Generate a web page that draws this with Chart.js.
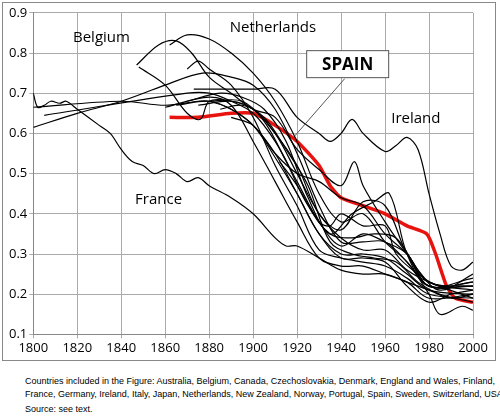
<!DOCTYPE html>
<html><head><meta charset="utf-8">
<script src="https://cdn.jsdelivr.net/npm/chart.js@4"></script>
<style>
body{margin:0;background:#fff;font-family:"Liberation Sans",Arial,sans-serif;}
#frame{position:absolute;left:2px;top:2px;width:494px;height:359px;border:1px solid #888;box-sizing:border-box;}
#c{display:block;}
#cap{position:absolute;left:25px;top:375px;font-size:9px;line-height:12.5px;color:#000;white-space:nowrap;}
</style></head><body>
<div id="frame"><canvas id="c" width="492" height="357"></canvas></div>
<div id="cap">Countries included in the Figure: Australia, Belgium, Canada, Czechoslovakia, Denmark, England and Wales, Finland,<br>France, Germany, Ireland, Italy, Japan, Netherlands, New Zealand, Norway, Portugal, Spain, Sweden, Switzerland, USA.<div style="margin-top:3px">Source: see text.</div></div>
<script>
const xTicks=[1800,1820,1840,1860,1880,1900,1920,1940,1960,1980,2000];
const yTicks=[0.1,0.2,0.3,0.4,0.5,0.6,0.7,0.8,0.9];
const spainYears=[1862,1875,1890,1900,1910,1920,1930,1935,1940,1950,1960,1970,1979,1983,1988,1992,2000];
const spainVals=[.64,.64,.65,.65,.62,.58,.52,.47,.44,.42,.40,.37,.35,.30,.22,.19,.18];
const franceYears=[1800,1802,1805,1808,1812,1815,1820,1830,1835,1840,1845,1850,1855,1860,1865,1870,1875,1880,1890,1900,1910,1915,1920,1930,1940,1950,1960,1970,1980,1990,2000];
const franceVals=[.70,.665,.67,.68,.675,.68,.66,.62,.60,.56,.53,.52,.50,.51,.50,.48,.49,.47,.44,.40,.34,.32,.32,.29,.26,.25,.25,.23,.21,.19,.20];
const belgiumYears=[1800,1840,1860,1875,1880,1890,1900,1910,1920,1930,1940,1950,1960,1970,1980,2000];
const belgiumVals=[.665,.68,.67,.68,.68,.66,.62,.55,.45,.35,.30,.30,.29,.25,.21,.20];
const netherlandsYears=[1847,1857,1865,1872,1880,1890,1900,1910,1920,1930,1940,1946,1950,1960,1970,1980,2000];
const netherlandsVals=[.77,.82,.83,.80,.74,.70,.66,.64,.56,.51,.47,.53,.47,.38,.30,.22,.23];
const irelandYears=[1873,1900,1910,1920,1930,1935,1940,1945,1950,1960,1965,1970,1975,1980,1985,1990,1995,2000];
const irelandVals=[.71,.71,.71,.64,.60,.58,.60,.635,.60,.555,.57,.59,.56,.45,.35,.27,.26,.28];
const swedenYears=[1800,1820,1840,1860,1877,1890,1900,1910,1920,1930,1940,1950,1960,1970,1980,2000];
const swedenVals=[.615,.65,.68,.72,.75,.74,.72,.66,.55,.42,.33,.33,.33,.28,.22,.22];
const denmarkYears=[1805,1870,1880,1890,1900,1910,1920,1930,1940,1950,1960,1970,1980,2000];
const denmarkVals=[.645,.70,.70,.68,.65,.58,.48,.38,.32,.35,.33,.30,.22,.23];
const peakYears=[1862,1870,1880,1890,1900,1910,1920,1930,1940,1950,1960,1970,1980,1985,1995,2000];
const peakVals=[.82,.845,.835,.80,.75,.68,.58,.45,.38,.40,.33,.28,.20,.15,.17,.16];
const finlandYears=[1848,1860,1870,1876,1880,1890,1900,1910,1920,1930,1940,1950,1960,1970,1980,2000];
const finlandVals=[.765,.72,.65,.635,.68,.68,.66,.60,.52,.40,.36,.43,.42,.30,.23,.22];
const norwayYears=[1870,1875,1880,1890,1900,1910,1920,1930,1940,1950,1960,1970,1980,2000];
const norwayVals=[.76,.78,.76,.72,.64,.52,.42,.31,.29,.28,.27,.24,.20,.19];
const aYears=[1860,1880,1890,1900,1910,1920,1930,1940,1950,1960,1970,1980,2000];
const aVals=[.665,.69,.67,.58,.48,.38,.29,.27,.27,.25,.23,.19,.20];
const bYears=[1865,1880,1890,1900,1910,1920,1930,1940,1950,1960,1970,1980,1990,2000];
const bVals=[.67,.68,.66,.62,.54,.45,.35,.29,.29,.28,.22,.18,.20,.21];
const cYears=[1870,1885,1895,1905,1915,1925,1935,1945,1955,1962,1970,1980,2000];
const cVals=[.68,.70,.69,.66,.58,.44,.35,.40,.43,.45,.30,.22,.24];
const dYears=[1880,1895,1905,1915,1925,1935,1945,1955,1965,1975,1985,2000];
const dVals=[.68,.68,.63,.53,.42,.35,.34,.35,.34,.26,.21,.25];
const eYears=[1890,1900,1910,1920,1930,1940,1950,1960,1970,1980,2000];
const eVals=[.64,.62,.55,.50,.48,.44,.42,.35,.30,.23,.21];
const fYears=[1912,1920,1930,1935,1940,1950,1960,1965,1975,1985,2000];
const fVals=[.53,.47,.38,.37,.40,.37,.37,.30,.25,.22,.22];
const gYears=[1875,1890,1900,1910,1920,1930,1940,1950,1960,1970,1980,2000];
const gVals=[.67,.68,.66,.60,.50,.40,.34,.31,.31,.26,.23,.19];
const hYears=[1885,1895,1905,1915,1925,1935,1945,1955,1965,1975,1985,2000];
const hVals=[.66,.67,.64,.56,.47,.33,.30,.29,.28,.23,.20,.18];

const pts=(xs,ys)=>xs.map((x,i)=>({x:x,y:ys[i]}));
const blackSets=[[franceYears,franceVals],[belgiumYears,belgiumVals],[netherlandsYears,netherlandsVals],[irelandYears,irelandVals],[swedenYears,swedenVals],[denmarkYears,denmarkVals],[peakYears,peakVals],[finlandYears,finlandVals],[norwayYears,norwayVals],[aYears,aVals],[bYears,bVals],[cYears,cVals],[dYears,dVals],[eYears,eVals],[fYears,fVals],[gYears,gVals],[hYears,hVals]];
const datasets=blackSets.map(s=>({data:pts(s[0],s[1]),borderColor:'#000',borderWidth:1.2,pointRadius:0,tension:0.35,fill:false}));
datasets.push({data:pts(spainYears,spainVals),borderColor:'#e8130f',borderWidth:3.5,pointRadius:0,tension:0.2,fill:false});

const labels=[{t:'Belgium',x:1831,y:.838},{t:'Netherlands',x:1909,y:.862},{t:'Ireland',x:1974,y:.636},{t:'France',x:1857,y:.435}];
const annot={id:'annot',afterDatasetsDraw(ch){
 const c=ch.ctx,xs=ch.scales.x,ys=ch.scales.y;
 c.save();c.fillStyle='#000';c.textAlign='center';c.textBaseline='middle';
 c.font='15px "Open Sans",sans-serif';
 labels.forEach(l=>c.fillText(l.t,xs.getPixelForValue(l.x),ys.getPixelForValue(l.y)));
 const bx=xs.getPixelForValue(1943),by=ys.getPixelForValue(.771);
 c.strokeStyle='#555';c.lineWidth=1;
 c.beginPath();c.moveTo(bx-3,by+14);c.lineTo(xs.getPixelForValue(1919),ys.getPixelForValue(.594));c.stroke();
 c.fillStyle='#fff';c.fillRect(bx-41,by-14,82,27);c.strokeRect(bx-41,by-14,82,27);
 c.fillStyle='#000';c.font='bold 17px "Open Sans",sans-serif';c.fillText('SPAIN',bx,by);
 c.restore();}};

new Chart(document.getElementById('c'),{type:'line',data:{datasets},
options:{responsive:false,animation:false,
 layout:{padding:{left:4,right:22,top:6,bottom:2}},
 plugins:{legend:{display:false},tooltip:{enabled:false}},
 scales:{
  x:{type:'linear',min:1800,max:2000,afterBuildTicks:a=>{a.ticks=xTicks.map(v=>({value:v}));},
   grid:{color:'#aaa',borderDash:[3,3],drawTicks:true,tickLength:4},border:{color:'#888'},
   ticks:{color:'#000',font:{size:13,family:'"Open Sans",sans-serif'},maxRotation:0,padding:2,callback:v=>v}},
  y:{min:0.1,max:0.9,afterBuildTicks:a=>{a.ticks=yTicks.map(v=>({value:v}));},
   grid:{color:'#aaa',borderDash:[3,3],tickLength:4},border:{color:'#888'},
   ticks:{color:'#000',font:{size:13,family:'"Open Sans",sans-serif'},padding:2,callback:v=>v.toFixed(1)}}
 }},plugins:[annot]});
</script>
</body></html>
